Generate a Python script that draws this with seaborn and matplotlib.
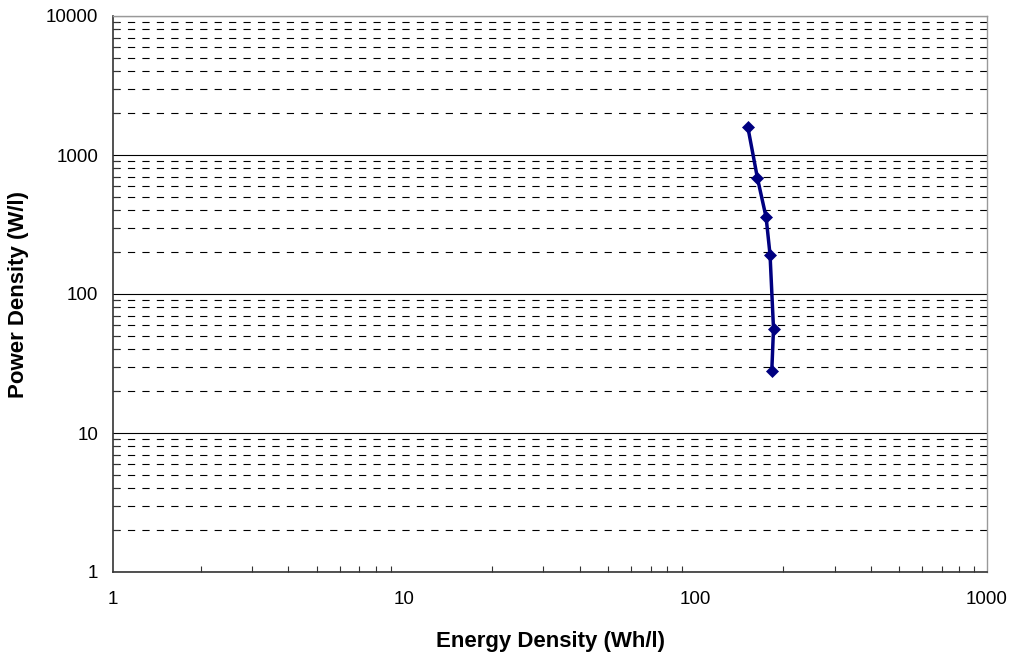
import matplotlib
matplotlib.use("Agg")
import matplotlib.pyplot as plt
import seaborn as sns
import pandas as pd
import numpy as np
from matplotlib.ticker import LogLocator, FixedLocator, NullFormatter

sns.set_theme(style="white")
plt.rcParams['font.family'] = ['Liberation Sans', 'DejaVu Sans']

energy_density = [151, 163, 174.5, 180, 185, 182.5]
power_density = [1590, 680, 356, 192, 56.3, 27.9]

x_ticks = [1, 10, 100, 1000]
y_ticks = [1, 10, 100, 1000, 10000]

df = pd.DataFrame({"Energy": energy_density, "Power": power_density})

fig = plt.figure(figsize=(10.13, 6.53), dpi=100)
ax = fig.add_axes([113/1013, 1-572/653, (987-113)/1013, (572-16)/653])

ax.set_xscale("log")
ax.set_yscale("log")
ax.set_xlim(1, 1000)
ax.set_ylim(1, 10000)

minor_y = [m * 10**e for e in range(0, 4) for m in range(2, 10)]
ax.set_yticks(y_ticks)
ax.set_yticklabels([str(v) for v in y_ticks])
ax.yaxis.set_minor_locator(FixedLocator(minor_y))
ax.yaxis.set_minor_formatter(NullFormatter())
ax.set_xticks(x_ticks)
ax.set_xticklabels([str(v) for v in x_ticks])
ax.xaxis.set_minor_locator(LogLocator(base=10, subs=range(2, 10)))
ax.xaxis.set_minor_formatter(NullFormatter())

ax.grid(True, axis="y", which="major", color="black", linewidth=0.8, linestyle="-")
ax.grid(True, axis="y", which="minor", color="black", linewidth=0.8, linestyle=(0, (6.5, 6.5)))
ax.grid(False, axis="x", which="both")
ax.set_axisbelow(True)

sns.lineplot(data=df, x="Energy", y="Power", ax=ax, sort=False, color="#000080",
             linewidth=2.5, marker="D", markersize=6.5, markeredgewidth=0.5,
             markeredgecolor="#000080", markerfacecolor="#000080",
             legend=False, zorder=5)

ax.tick_params(axis="both", which="major", direction="out", length=4.5, width=1,
               color="#333333", labelsize=13.5, labelcolor="black")
ax.tick_params(axis="y", which="major", pad=6)
ax.tick_params(axis="x", which="major", pad=9)
ax.tick_params(axis="x", which="minor", direction="in", length=4, width=0.8,
               color="#333333", bottom=True)
ax.tick_params(axis="y", which="minor", direction="in", length=4, width=0.8,
               color="#333333", left=True)

for s in ["left", "bottom"]:
    ax.spines[s].set_color("#333333")
    ax.spines[s].set_linewidth(1.2)
for s in ["top", "right"]:
    ax.spines[s].set_color("#999999")
    ax.spines[s].set_linewidth(1.0)

ax.set_xlabel("Energy Density (Wh/l)", fontsize=16, fontweight="bold", color="black")
ax.set_ylabel("Power Density (W/l)", fontsize=16, fontweight="bold", color="black")
ax.xaxis.set_label_coords((550 - 113) / (987 - 113), -(641 - 572) / (572 - 16))
ax.yaxis.set_label_coords(-(113 - 19) / (987 - 113), (572 - 294) / (572 - 16))
ax.xaxis.label.set_va("center")
ax.yaxis.label.set_va("center")

fig.savefig("out.png", dpi=100, facecolor="white")
